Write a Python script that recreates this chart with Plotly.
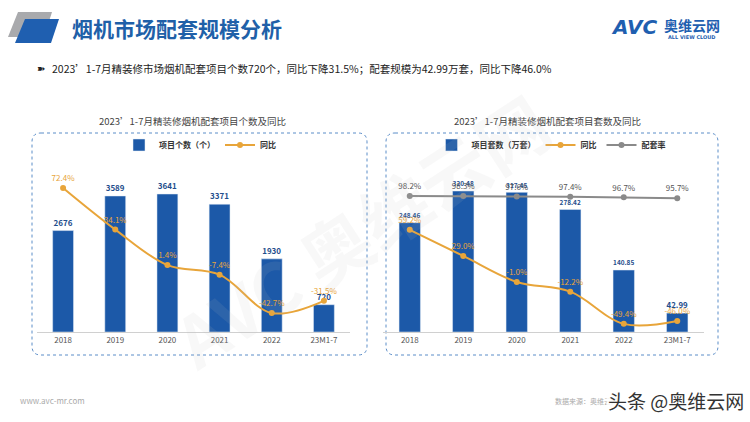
import plotly.graph_objects as go

W, H = 750, 422
FONT = "Noto Sans CJK SC"

categories = ["2018", "2019", "2020", "2021", "2022", "23M1-7"]
project_counts = [2676, 3589, 3641, 3371, 1930, 720]
count_yoy = [72.4, 34.1, 1.4, -7.4, -42.7, -31.5]
project_sets = [248.46, 320.48, 317.45, 278.42, 140.85, 42.99]
sets_yoy = [59.2, 29.0, -1.0, -12.2, -49.4, -46.0]
match_rate = [98.2, 98.3, 97.6, 97.4, 96.7, 95.7]

BLUE = "#1C59A8"
ORANGE = "#E8A53A"
GRAY = "#8A8A8A"
LABEL_BLUE = "#1F4E8C"


def px(x):
    return x / W


def py(y):
    return 1 - y / H


fig = go.Figure()

# Left chart
fig.add_trace(go.Bar(
    x=categories, y=project_counts, name="<b>项目个数（个）</b>", marker_color=BLUE,
    texttemplate="<b>%{y}</b>", textposition="outside",
    textfont=dict(size=8, color=LABEL_BLUE, family=FONT), cliponaxis=False,
    xaxis="x", yaxis="y", legend="legend"))
fig.add_trace(go.Scatter(
    x=categories, y=count_yoy, name="<b>同比</b>", mode="lines+markers+text",
    line=dict(color=ORANGE, width=2, shape="spline"),
    marker=dict(size=6, color=ORANGE),
    texttemplate="%{y:.1f}%", textposition="top center",
    textfont=dict(size=8, color=ORANGE, family=FONT), cliponaxis=False,
    xaxis="x", yaxis="y2", legend="legend"))

# Right chart
fig.add_trace(go.Bar(
    x=categories, y=project_sets, name="<b>项目套数（万套）</b>", marker_color=BLUE,
    texttemplate="<b>%{y:.2f}</b>", textposition="outside",
    textfont=dict(size=8, color=LABEL_BLUE, family=FONT), cliponaxis=False,
    xaxis="x2", yaxis="y3", legend="legend2"))
fig.add_trace(go.Scatter(
    x=categories, y=sets_yoy, name="<b>同比</b>", mode="lines+markers+text",
    line=dict(color=ORANGE, width=2, shape="spline"),
    marker=dict(size=6, color=ORANGE),
    texttemplate="%{y:.1f}%", textposition="top center",
    textfont=dict(size=8, color=ORANGE, family=FONT), cliponaxis=False,
    xaxis="x2", yaxis="y4", legend="legend2"))
fig.add_trace(go.Scatter(
    x=categories, y=match_rate, name="<b>配套率</b>", mode="lines+markers+text",
    line=dict(color=GRAY, width=2),
    marker=dict(size=6, color=GRAY),
    texttemplate="%{y:.1f}%", textposition="top center",
    textfont=dict(size=8, color="#555555", family=FONT), cliponaxis=False,
    xaxis="x2", yaxis="y4", legend="legend2"))

ydom = [py(332), py(160)]
xaxis_common = dict(showline=True, linecolor="#D0D0D0", linewidth=1, ticks="",
                    tickfont=dict(size=8, color="#555555", family=FONT),
                    showgrid=False, zeroline=False, fixedrange=True)
yaxis_common = dict(showticklabels=False, showgrid=False, zeroline=False,
                    showline=False, ticks="")

legend_common = dict(orientation="h", xanchor="center", yanchor="middle",
                     font=dict(size=8, color="#333333", family=FONT),
                     bgcolor="rgba(0,0,0,0)", itemwidth=30, traceorder="normal")

fig.update_layout(
    width=W, height=H,
    margin=dict(l=0, r=0, t=0, b=0),
    paper_bgcolor="white", plot_bgcolor="rgba(0,0,0,0)",
    font=dict(family=FONT),
    bargap=0.6,
    xaxis=dict(domain=[px(37), px(350)], anchor="y", **xaxis_common),
    yaxis=dict(domain=ydom, range=[0, 4538], anchor="x", **yaxis_common),
    yaxis2=dict(overlaying="y", range=[-60.2, 98.2], anchor="x", **yaxis_common),
    xaxis2=dict(domain=[px(383), px(704)], anchor="y3", **xaxis_common),
    yaxis3=dict(domain=ydom, range=[0, 391], anchor="x2", **yaxis_common),
    yaxis4=dict(overlaying="y3", range=[-58.8, 139.8], anchor="x2", **yaxis_common),
    legend=dict(x=px(200), y=py(145), **legend_common),
    legend2=dict(x=px(551), y=py(145), **legend_common),
    showlegend=True,
)


def rounded_rect(x0, y0, x1, y1, r):
    rx, ry = r / W, r / H
    X0, X1 = px(x0), px(x1)
    Y0, Y1 = py(y0), py(y1)  # Y0 top, Y1 bottom
    return (f"M {X0+rx},{Y0} L {X1-rx},{Y0} Q {X1},{Y0} {X1},{Y0-ry} "
            f"L {X1},{Y1+ry} Q {X1},{Y1} {X1-rx},{Y1} "
            f"L {X0+rx},{Y1} Q {X0},{Y1} {X0},{Y1+ry} "
            f"L {X0},{Y0-ry} Q {X0},{Y0} {X0+rx},{Y0} Z")


def poly(points):
    s = "M " + " L ".join(f"{px(x)},{py(y)}" for x, y in points) + " Z"
    return s


shapes = [
    dict(type="path", xref="paper", yref="paper", path=rounded_rect(32, 133, 367, 355, 9),
         line=dict(color="#5B8DC8", width=1, dash="dot"), fillcolor="rgba(0,0,0,0)", layer="below"),
    dict(type="path", xref="paper", yref="paper", path=rounded_rect(386, 133, 718, 355, 9),
         line=dict(color="#5B8DC8", width=1, dash="dot"), fillcolor="rgba(0,0,0,0)", layer="below"),
    # title icon
    dict(type="path", xref="paper", yref="paper", path=poly([(18, 12), (52, 12), (44, 37), (8, 37)]),
         line=dict(width=0), fillcolor="#A9AAAD", layer="below"),
    dict(type="path", xref="paper", yref="paper", path=poly([(25, 19), (59, 19), (51, 43), (15, 43)]),
         line=dict(width=0), fillcolor="#1F5FB0", layer="below"),
]
fig.update_layout(shapes=shapes)

annotations = [
    dict(text="<b>烟机市场配套规模分析</b>", x=px(70), y=py(28), xanchor="left", yanchor="middle",
         font=dict(size=21, color="#2060A8", family=FONT)),
    dict(text="<b>➽</b>", x=px(35), y=py(68), xanchor="left", yanchor="middle",
         font=dict(size=10, color="#222222", family="DejaVu Sans")),
    dict(text="2023’1-7月精装修市场烟机配套项目个数720个，同比下降31.5%；配套规模为42.99万套，同比下降46.0%",
         x=px(50), y=py(68), xanchor="left", yanchor="middle",
         font=dict(size=10.5, color="#222222", family=FONT)),
    dict(text="2023’1-7月精装修烟机配套项目个数及同比", x=px(192), y=py(121), xanchor="center", yanchor="middle",
         font=dict(size=9.5, color="#444444", family=FONT)),
    dict(text="2023’1-7月精装修烟机配套项目套数及同比", x=px(547), y=py(121), xanchor="center", yanchor="middle",
         font=dict(size=9.5, color="#444444", family=FONT)),
    # logo
    dict(text="<b><i>AVC</i></b>", x=px(634), y=py(27), xanchor="center", yanchor="middle",
         font=dict(size=20, color="#1F5FB0", family="DejaVu Sans")),
    dict(text="<b>奥维云网</b>", x=px(692), y=py(25), xanchor="center", yanchor="middle",
         font=dict(size=14, color="#1F5FB0", family=FONT)),
    dict(text="<b>ALL VIEW CLOUD</b>", x=px(692), y=py(37), xanchor="center", yanchor="middle",
         font=dict(size=5, color="#1F5FB0", family="DejaVu Sans")),
    # footer
    dict(text="www.avc-mr.com", x=px(18), y=py(400), xanchor="left", yanchor="middle",
         font=dict(size=8, color="#AAAAAA", family=FONT)),
    dict(text="数据来源：奥维云网", x=px(553), y=py(401), xanchor="left", yanchor="middle",
         font=dict(size=7, color="#AAAAAA", family=FONT)),
    dict(text="头条 @奥维云网", x=px(746), y=py(400), xanchor="right", yanchor="middle",
         bgcolor="rgba(255,255,255,0.85)",
         font=dict(size=19, color="#333333", family=FONT)),
    # watermark
    dict(text="<b>AVC 奥维云网</b>", x=px(360), y=py(230), xanchor="center", yanchor="middle",
         textangle=-33, font=dict(size=70, color="rgba(190,190,190,0.11)", family=FONT)),
]
for a in annotations:
    a.setdefault("xref", "paper")
    a.setdefault("yref", "paper")
    a.setdefault("showarrow", False)
fig.update_layout(annotations=annotations)

fig.write_html("out.html")
